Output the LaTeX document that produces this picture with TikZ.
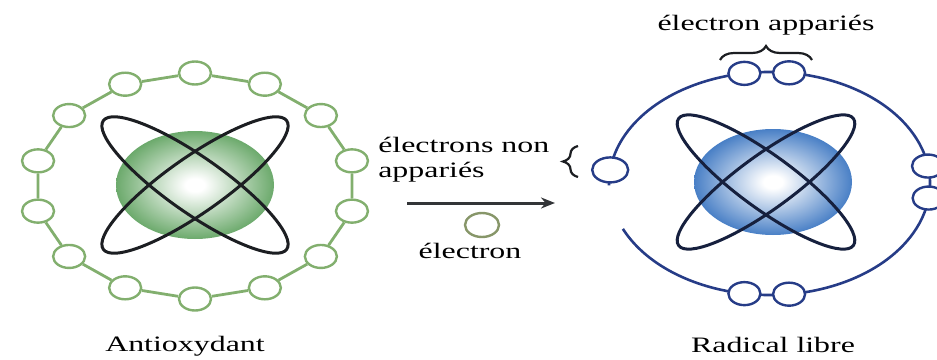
\documentclass[tikz,border=0pt]{standalone}
\usepackage{fontspec}
\setmainfont{Liberation Serif}
\usetikzlibrary{shapes.geometric,arrows.meta,decorations.pathreplacing}

\definecolor{ringgreen}{RGB}{130,175,110}
\definecolor{coregreen}{RGB}{88,158,88}
\definecolor{ringblue}{RGB}{38,60,135}
\definecolor{coreblue}{RGB}{48,110,190}
\definecolor{orbitdark}{RGB}{28,30,34}
\definecolor{orbitnavy}{RGB}{22,32,62}
\definecolor{loosegreen}{RGB}{135,150,105}

\pgfdeclareradialshading{greencore}{\pgfpoint{0bp}{0bp}}{%
    color(0bp)=(white); color(3bp)=(white); color(28bp)=(coregreen);
    color(50bp)=(coregreen!85!black); color(70bp)=(coregreen!85!black)}
\pgfdeclareradialshading{bluecore}{\pgfpoint{0bp}{0bp}}{%
    color(0bp)=(white); color(3bp)=(white); color(28bp)=(coreblue);
    color(50bp)=(coreblue!85!black); color(70bp)=(coreblue!85!black)}

\begin{document}
\begin{tikzpicture}[x=1pt,y=-1pt]

\def\gcx{195}
\def\gcy{186}
\def\bcx{769.5}
\def\bcy{183.5}

\tikzset{
    elec/.style={
        ellipse,
        fill=white,
        line width=2.4pt,
        inner sep=0pt,
        minimum width=32pt,
        minimum height=23pt
    },
    orbit/.style={line width=3pt},
    lbl/.style={
        font=\fontsize{22}{25}\selectfont,
        inner sep=0pt,
        xscale=1.45
    },
    bracket/.style={
        decorate,
        decoration={brace,amplitude=#1},
        line width=2.2pt,
        orbitdark
    }
}

\useasboundingbox (0,0) rectangle (937,359);
\clip (0,0) rectangle (937,359);

% Antioxidant: nucleus and orbits
\node[ellipse, minimum width=158pt, minimum height=108pt, shading=greencore] (gcore) at (\gcx,185) {};
\foreach \r in {35,-35}{
    \draw[orbit, orbitdark, rotate around={\r:(gcore.center)}]
        (gcore.center) ellipse [x radius=112, y radius=28];
}

% Outer shell, 14 electrons
\foreach \k in {0,...,13}{
    \node[elec, draw=ringgreen] (g\k)
        at ({\gcx+161*cos(90+\k*360/14)},{\gcy-113*sin(90+\k*360/14)}) {};
}
\foreach \k in {0,...,13}{
    \pgfmathtruncatemacro\nxt{mod(\k+1,14)}
    \draw[ringgreen, line width=2.8pt] (g\k) -- (g\nxt);
}

\node[lbl, anchor=base] (antiox) at (185,351) {Antioxydant};

% Free radical: nucleus and orbits
\node[ellipse, minimum width=158pt, minimum height=106pt, shading=bluecore] (bcore) at (773,182) {};
\coordinate (bmid) at (766,182);
\foreach \r in {36,-36}{
    \draw[orbit, orbitnavy, rotate around={\r:(bmid)}]
        (bmid) ellipse [x radius=108, y radius=27];
}

% Outer shell, open on the left
\draw[ringblue, line width=2.6pt]
    ({\bcx+160.5*cos(156)},{\bcy+111.5*sin(156)})
    arc[start angle=156, end angle=-181, x radius=160.5, y radius=111.5];

\foreach \t/\nm in {261/bt1,277/bt2,99/bb1,83/bb2,351/br1,7.5/br2}{
    \node[elec, draw=ringblue] (\nm)
        at ({\bcx+160.5*cos(\t)},{\bcy+111.5*sin(\t)}) {};
}
\node[elec, draw=ringblue, minimum width=36pt, minimum height=25pt] (bl)
    at ({\bcx+160.5*cos(187)},{\bcy+111.5*sin(187)}) {};

\node[lbl, anchor=base] (radical) at (773,352) {Radical libre};

% Paired electrons
\draw[bracket=14pt] (720,60) -- (812,60);
\node[lbl, anchor=base] (paired) at (766,30) {électron appariés};

% Unpaired electron
\draw[bracket=15pt] (578,177) -- (578,146);
\node[lbl, anchor=north west, align=left] (unpaired) at (378,137) {électrons non\\appariés};

% Transfer of one electron
\coordinate (arrtail) at (407,203);
\coordinate (arrtip) at (555,203);
\draw[line width=3pt, orbitdark!90, -{Stealth[length=14pt,width=11pt]}] (arrtail) -- (arrtip);
\node[ellipse, draw=loosegreen, line width=2.4pt, minimum width=34pt, minimum height=24pt] (loose) at (482,225) {};
\node[lbl, anchor=base] (single) at (470,258) {électron};

\end{tikzpicture}
\end{document}
